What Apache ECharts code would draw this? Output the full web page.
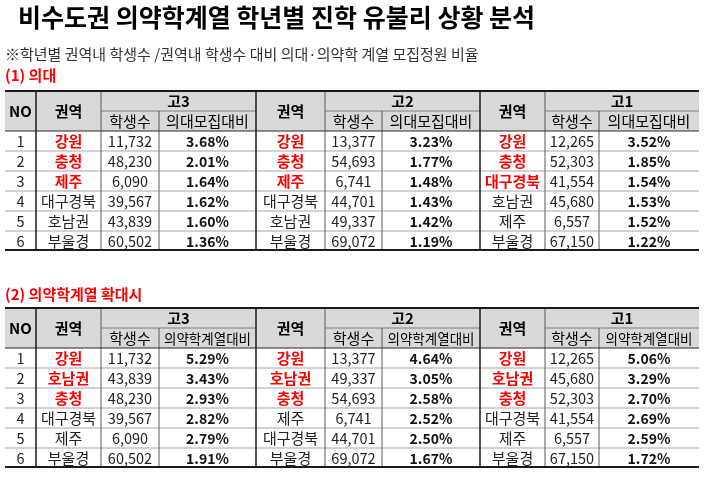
<!DOCTYPE html>
<html>
<head>
<meta charset="utf-8">
<script src="https://cdn.jsdelivr.net/npm/echarts@6/dist/echarts.min.js"></script>
<style>
  html, body { margin: 0; padding: 0; background: #fff; }
  #main { width: 710px; height: 483px; }
</style>
</head>
<body>
<div id="main"></div>
<script>
  // ---- data ----
  var grades = ['고3', '고2', '고1'];
  var rankNo = [1, 2, 3, 4, 5, 6];

  // (1) 의대
  var regionsMed = [
    ['강원', '충청', '제주', '대구경북', '호남권', '부울경'],
    ['강원', '충청', '제주', '대구경북', '호남권', '부울경'],
    ['강원', '충청', '대구경북', '호남권', '제주', '부울경']
  ];
  var studentsMed = [
    [11732, 48230, 6090, 39567, 43839, 60502],
    [13377, 54693, 6741, 44701, 49337, 69072],
    [12265, 52303, 41554, 45680, 6557, 67150]
  ];
  var ratioMed = [
    [3.68, 2.01, 1.64, 1.62, 1.60, 1.36],
    [3.23, 1.77, 1.48, 1.43, 1.42, 1.19],
    [3.52, 1.85, 1.54, 1.53, 1.52, 1.22]
  ];

  // (2) 의약학계열 확대시
  var regionsAll = [
    ['강원', '호남권', '충청', '대구경북', '제주', '부울경'],
    ['강원', '호남권', '충청', '제주', '대구경북', '부울경'],
    ['강원', '호남권', '충청', '대구경북', '제주', '부울경']
  ];
  var studentsAll = [
    [11732, 43839, 48230, 39567, 6090, 60502],
    [13377, 49337, 54693, 6741, 44701, 69072],
    [12265, 45680, 52303, 41554, 6557, 67150]
  ];
  var ratioAll = [
    [5.29, 3.43, 2.93, 2.82, 2.79, 1.91],
    [4.64, 3.05, 2.58, 2.52, 2.50, 1.67],
    [5.06, 3.29, 2.70, 2.69, 2.59, 1.72]
  ];
  var hotCount = 3;

  // ---- layout ----
  var FONT = "'Noto Sans CJK KR', 'Noto Sans', sans-serif";
  var colEdges = [5, 36, 101, 159, 256, 325, 382, 480, 545, 599, 699];
  var rowH = 20;
  var tableTops = [91, 308];

  var cells = [];
  var lines = [];

  function fmt(n) {
    return n.toString().replace(/\B(?=(\d{3})+(?!\d))/g, ',');
  }

  function buildTable(top, regions, students, ratios, ratioLabel) {
    var hMid = top + rowH, hBot = top + rowH * 2;
    var bottom = hBot + rowH * rankNo.length - 1;
    cells.push({ x0: colEdges[0], x1: colEdges[1], y0: top, y1: hBot, text: 'NO', kind: 'head' });
    grades.forEach(function (g, gi) {
      var c = 1 + gi * 3;
      cells.push({ x0: colEdges[c], x1: colEdges[c + 1], y0: top, y1: hBot, text: '권역', kind: 'head' });
      cells.push({ x0: colEdges[c + 1], x1: colEdges[c + 3], y0: top, y1: hMid, text: g, kind: 'head' });
      cells.push({ x0: colEdges[c + 1], x1: colEdges[c + 2], y0: hMid, y1: hBot, text: '학생수', kind: 'sub' });
      cells.push({ x0: colEdges[c + 2], x1: colEdges[c + 3], y0: hMid, y1: hBot, text: ratioLabel, kind: ratioLabel.length > 6 ? 'subTight' : 'sub' });
      rankNo.forEach(function (no, r) {
        var y0 = hBot + r * rowH, y1 = y0 + rowH;
        cells.push({ x0: colEdges[c], x1: colEdges[c + 1], y0: y0, y1: y1, text: regions[gi][r], kind: r < hotCount ? 'hot' : 'region' });
        cells.push({ x0: colEdges[c + 1], x1: colEdges[c + 2], y0: y0, y1: y1, text: fmt(students[gi][r]), kind: 'num' });
        cells.push({ x0: colEdges[c + 2], x1: colEdges[c + 3], y0: y0, y1: y1, text: ratios[gi][r].toFixed(2) + '%', kind: 'pct' });
      });
    });
    rankNo.forEach(function (no, r) {
      var y0 = hBot + r * rowH;
      cells.push({ x0: colEdges[0], x1: colEdges[1], y0: y0, y1: y0 + rowH, text: String(no), kind: 'num' });
    });

    // grid lines
    for (var r = 1; r < rankNo.length; r++) {
      lines.push({ x0: colEdges[0], y0: hBot + r * rowH, x1: colEdges[10], y1: hBot + r * rowH, kind: 'row' });
    }
    for (var gi = 0; gi < 3; gi++) {
      var c = 1 + gi * 3;
      lines.push({ x0: colEdges[c + 1], y0: hMid, x1: colEdges[c + 3], y1: hMid, kind: 'mid' });
      lines.push({ x0: colEdges[c + 2], y0: hMid, x1: colEdges[c + 2], y1: bottom, kind: 'vthin' });
      lines.push({ x0: colEdges[c + 1], y0: top, x1: colEdges[c + 1], y1: bottom, kind: 'vthin' });
    }
    [1, 4, 7].forEach(function (c) {
      lines.push({ x0: colEdges[c], y0: top, x1: colEdges[c], y1: bottom, kind: 'vthick' });
    });
    lines.push({ x0: colEdges[0], y0: hBot, x1: colEdges[10], y1: hBot, kind: 'head' });
    lines.push({ x0: colEdges[0], y0: top, x1: colEdges[10], y1: top, kind: 'outer' });
    lines.push({ x0: colEdges[0], y0: bottom, x1: colEdges[10], y1: bottom, kind: 'outer' });
  }

  buildTable(tableTops[0], regionsMed, studentsMed, ratioMed, '의대모집대비');
  buildTable(tableTops[1], regionsAll, studentsAll, ratioAll, '의약학계열대비');

  var cellStyle = {
    head:     { bg: '#d9d9d9', font: 'bold 15px ' + FONT, fill: '#000' },
    sub:      { bg: '#d9d9d9', font: '15px ' + FONT, fill: '#000' },
    subTight: { bg: '#d9d9d9', font: '13.5px ' + FONT, fill: '#000' },
    hot:      { bg: null, font: 'bold 15px ' + FONT, fill: '#ff0000' },
    region:   { bg: null, font: '15px ' + FONT, fill: '#222' },
    num:      { bg: null, font: '14.5px ' + FONT, fill: '#222' },
    pct:      { bg: null, font: 'bold 14px ' + FONT, fill: '#111' }
  };
  var lineStyle = {
    row:    { stroke: '#a6a6a6', lineWidth: 1 },
    mid:    { stroke: '#7f7f7f', lineWidth: 1 },
    vthin:  { stroke: '#595959', lineWidth: 1 },
    vthick: { stroke: '#1a1a1a', lineWidth: 1.5 },
    head:   { stroke: '#262626', lineWidth: 1 },
    outer:  { stroke: '#1a1a1a', lineWidth: 2 }
  };

  var chart = echarts.init(document.getElementById('main'), null, { renderer: 'canvas' });

  var option = {
    animation: false,
    backgroundColor: '#fff',
    title: [
      { text: '비수도권 의약학계열 학년별 진학 유불리 상황 분석', left: 18, top: 3, padding: 0,
        textStyle: { fontFamily: FONT, fontSize: 25, fontWeight: 'bold', color: '#000', lineHeight: 28 } },
      { text: '※학년별 권역내 학생수 /권역내 학생수 대비 의대·의약학 계열 모집정원 비율', left: 5, top: 45, padding: 0,
        textStyle: { fontFamily: FONT, fontSize: 15, fontWeight: 'normal', color: '#333', lineHeight: 18 } },
      { text: '(1) 의대', left: 5, top: 66, padding: 0,
        textStyle: { fontFamily: FONT, fontSize: 15, fontWeight: 'bold', color: '#ff0000', lineHeight: 18 } },
      { text: '(2) 의약학계열 확대시', left: 5, top: 285, padding: 0,
        textStyle: { fontFamily: FONT, fontSize: 15, fontWeight: 'bold', color: '#ff0000', lineHeight: 18 } }
    ],
    grid: { left: 0, right: 0, top: 0, bottom: 0 },
    xAxis: { type: 'value', min: 0, max: 710, show: false },
    yAxis: { type: 'value', min: 0, max: 483, inverse: true, show: false },
    series: [
      {
        type: 'custom',
        coordinateSystem: 'cartesian2d',
        data: cells.map(function (c) { return [c.x0, c.x1, c.y0, c.y1]; }),
        renderItem: function (params, api) {
          var cell = cells[params.dataIndex];
          var st = cellStyle[cell.kind];
          var p0 = api.coord([api.value(0), api.value(2)]);
          var p1 = api.coord([api.value(1), api.value(3)]);
          var children = [];
          if (st.bg) {
            children.push({ type: 'rect', shape: { x: p0[0], y: p0[1], width: p1[0] - p0[0], height: p1[1] - p0[1] },
              style: { fill: st.bg } });
          }
          children.push({ type: 'text', style: { text: cell.text, x: (p0[0] + p1[0]) / 2, y: (p0[1] + p1[1]) / 2 + 0.5,
            align: 'center', verticalAlign: 'middle', font: st.font, fill: st.fill } });
          return { type: 'group', children: children };
        },
        z: 1
      },
      {
        type: 'custom',
        coordinateSystem: 'cartesian2d',
        data: lines.map(function (l) { return [l.x0, l.y0, l.x1, l.y1]; }),
        renderItem: function (params, api) {
          var ln = lines[params.dataIndex];
          var a = api.coord([api.value(0), api.value(1)]);
          var b = api.coord([api.value(2), api.value(3)]);
          return { type: 'line', shape: { x1: a[0], y1: a[1], x2: b[0], y2: b[1] },
            style: lineStyle[ln.kind] };
        },
        z: 2
      }
    ]
  };

  chart.setOption(option);
</script>
</body>
</html>
